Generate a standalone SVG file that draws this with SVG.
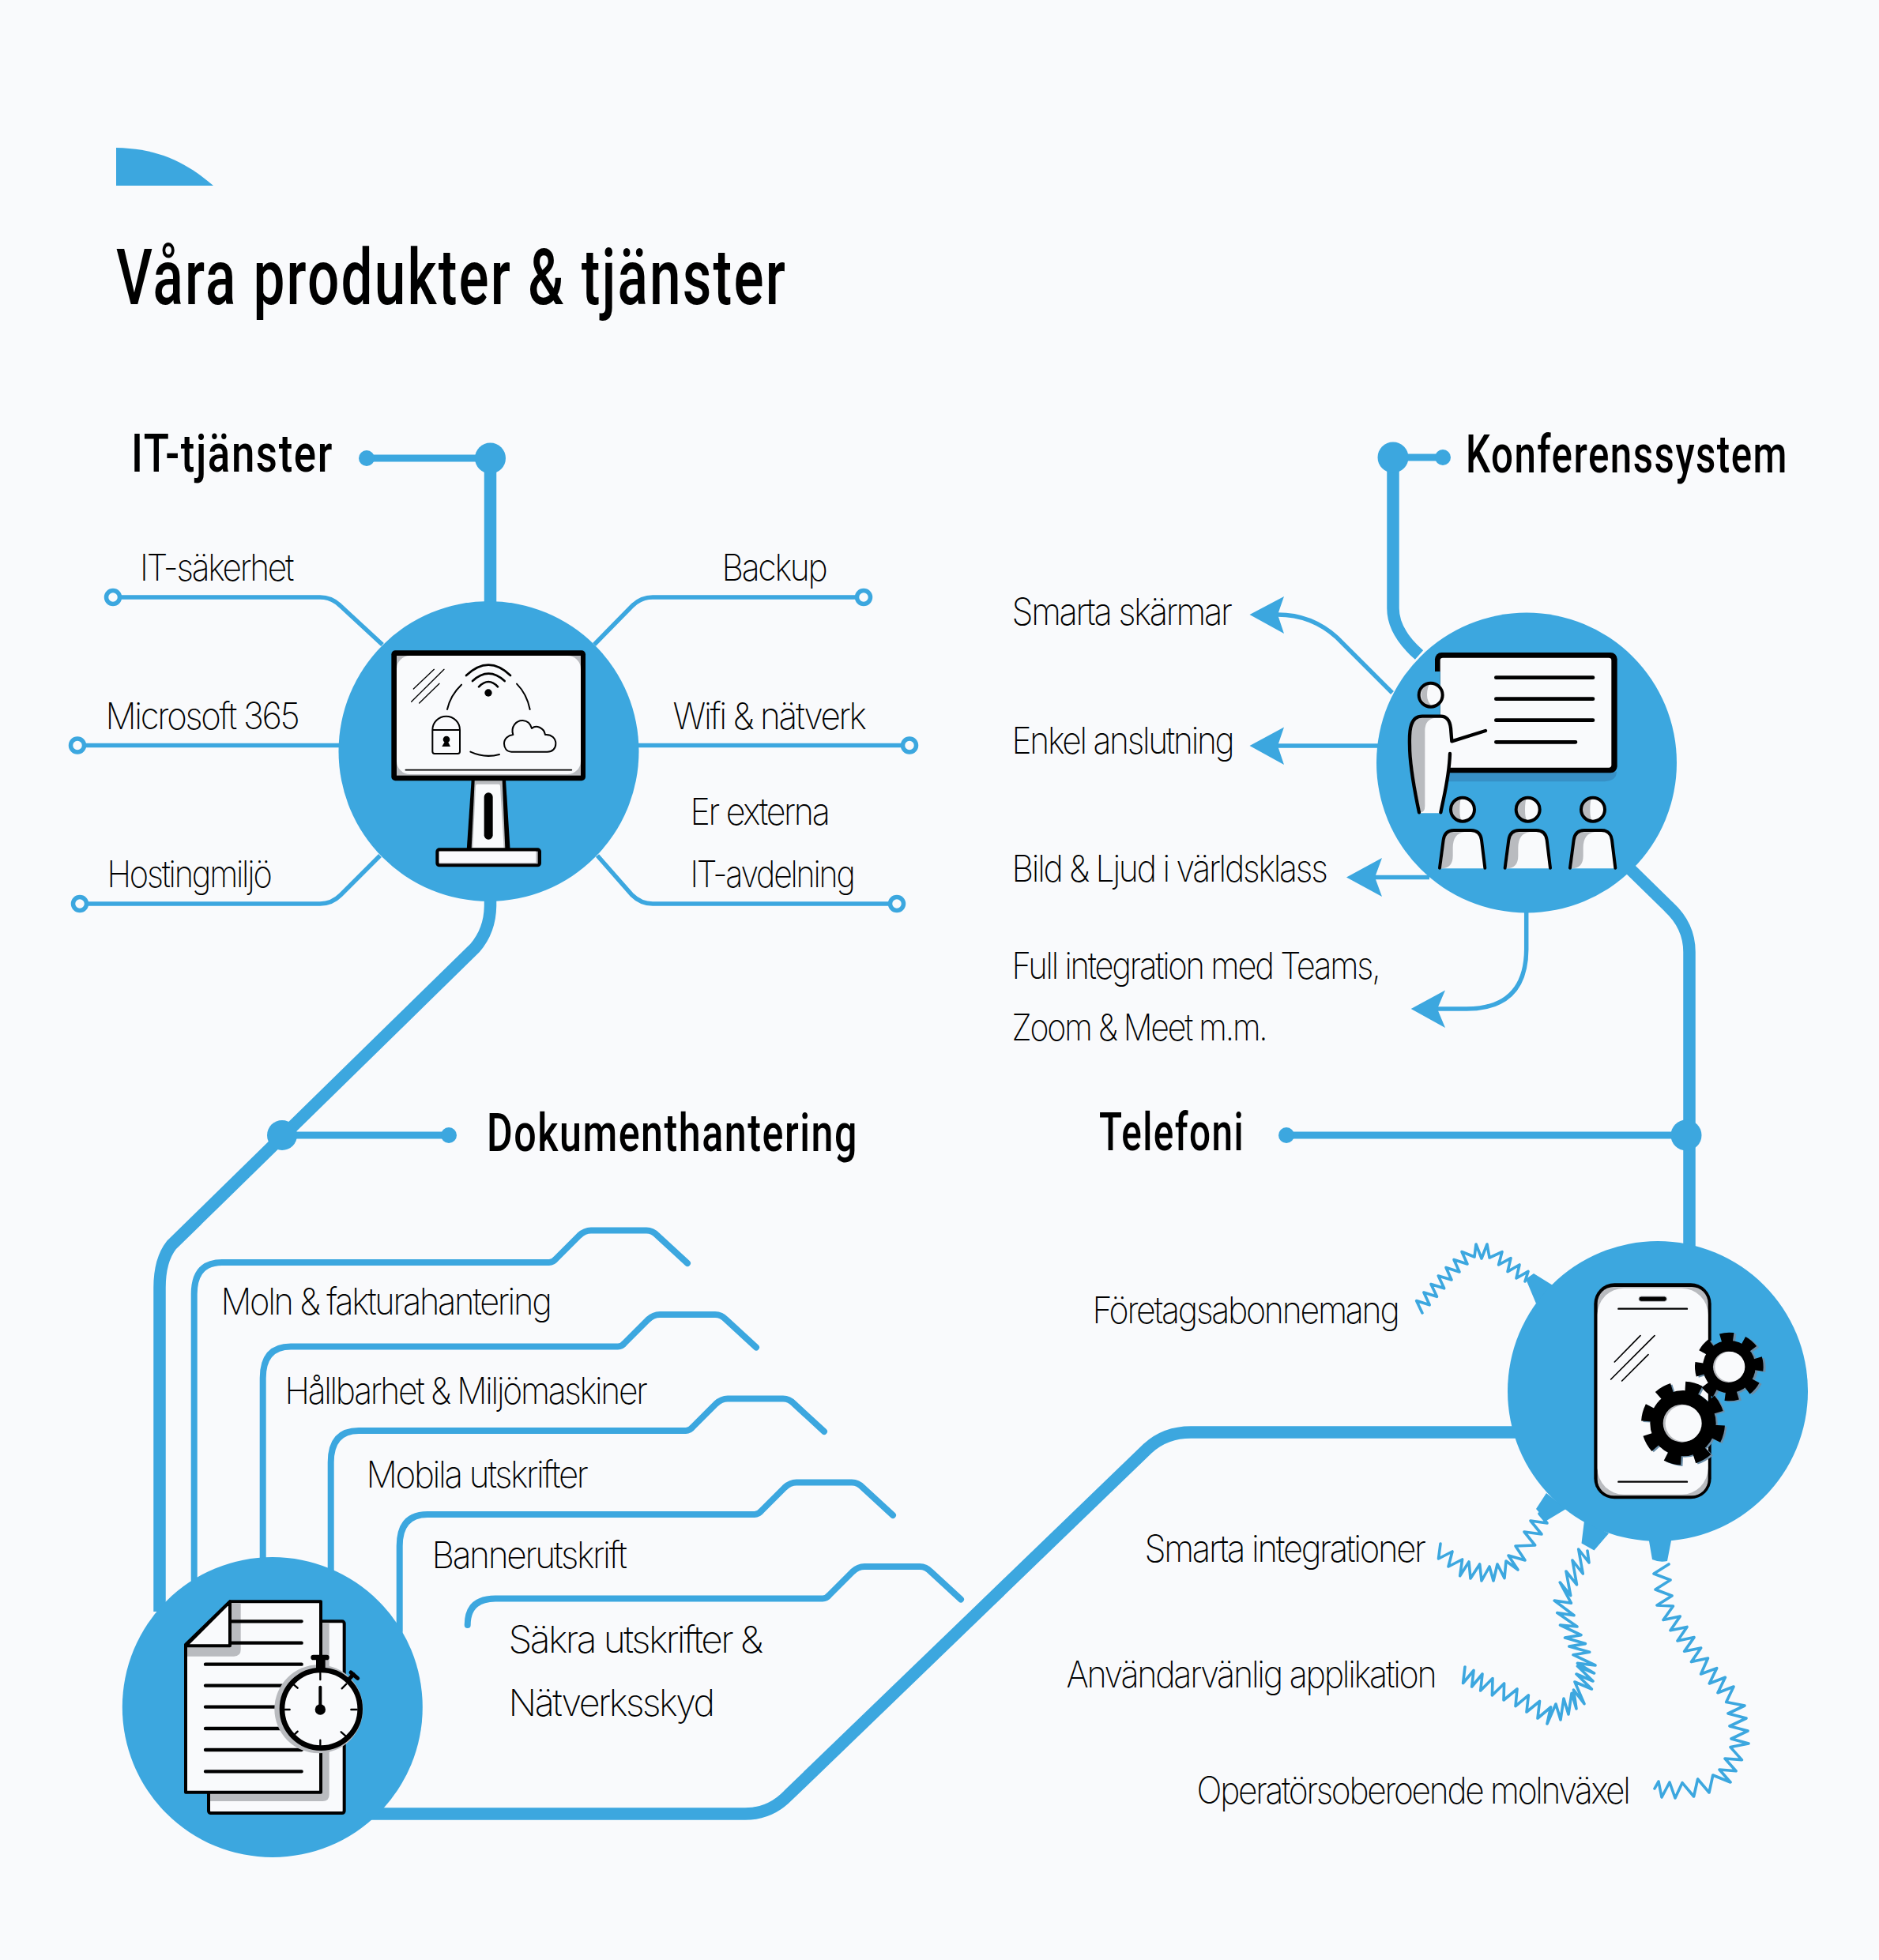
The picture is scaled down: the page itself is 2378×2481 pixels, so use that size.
<svg xmlns="http://www.w3.org/2000/svg" xmlns:xlink="http://www.w3.org/1999/xlink" width="2378" height="2481" viewBox="0 0 2378 2481">
<style>
.bg{fill:#f9fafc}
.blue{fill:#3ca7df}
.thick{fill:none;stroke:#3ca7df;stroke-width:15.5}
.mid{fill:none;stroke:#3ca7df;stroke-width:9}
.fold{fill:none;stroke:#3ca7df;stroke-width:8;stroke-linecap:round;stroke-linejoin:round}
.thin{fill:none;stroke:#3ca7df;stroke-width:5.5}
.coil{fill:none;stroke:#3ca7df;stroke-width:3.6;stroke-linejoin:round;stroke-linecap:round}
.ring{fill:#f9fafc;stroke:#3ca7df;stroke-width:5.5}
.t{font-family:"Inter","Liberation Sans",sans-serif;font-weight:200;font-size:47px;letter-spacing:-2.5px;fill:#000}
.h{font-family:"Roboto","Liberation Sans",sans-serif;font-weight:500;font-size:66px;letter-spacing:2px;fill:#000}
.title{font-family:"Roboto","Liberation Sans",sans-serif;font-weight:500;font-size:98px;letter-spacing:3px;fill:#000}
.ink{fill:none;stroke:#000;stroke-linecap:round;stroke-linejoin:round}
.w{fill:#f9fafc}
.g{fill:#b9bbbf}
.k{fill:#000}
</style>
<defs>
<g id="listener">
<path class="w" d="M186,866 L200,760 Q205,723 240,723 H305 Q340,723 345,760 L358,868 H186Z"/>
<path class="g" d="M192,866 L204,760 Q207,730 240,730 H280 Q236,735 236,790 V820 Q236,868 192,868Z"/>
<path class="ink" stroke-width="12" d="M186,866 L200,760 Q205,723 240,723 H305 Q340,723 345,760 L358,866"/>
<circle class="w" cx="273" cy="644" r="45"/>
<path class="g" d="M268,600 A44,44 0 0 0 270,688 Q262,675 262,644 Q262,615 268,600Z"/>
<circle class="ink" stroke-width="12" cx="273" cy="644" r="45"/>
</g>
<g id="gearBig" fill="currentColor" stroke="currentColor">
<circle cx="0" cy="0" r="125" stroke="none"/>
<circle cx="0" cy="0" r="138" fill="none" stroke-width="42" stroke-dasharray="58 50.4" transform="rotate(3)"/>
</g>
<g id="gearSmall" fill="currentColor" stroke="currentColor">
<circle cx="0" cy="0" r="100" stroke="none"/>
<circle cx="0" cy="0" r="112" fill="none" stroke-width="36" stroke-dasharray="48 40" transform="rotate(-17)"/>
</g>
</defs>
<rect class="bg" width="2378" height="2481"/>
<path id="tab" class="blue" d="M147,187 C200,188 235,205 270,235 H147Z"/>
<text id="title" class="title" x="147" y="385" textLength="849" lengthAdjust="spacingAndGlyphs">Våra produkter &amp; tjänster</text>

<g id="connectors">
<path class="thick" d="M620.5,580 V770"/>
<path class="mid" d="M464,580 H620"/>
<path class="thin" d="M143,756 H405 Q420,756 431,767 L484,816"/>
<path class="thin" d="M1093,756 H826 Q811,756 800,767 L752,816"/>
<path class="thin" d="M98,943.5 H440"/>
<path class="thin" d="M800,943.5 H1151"/>
<path class="thin" d="M101,1144 H405 Q420,1144 431,1133 L481,1083"/>
<path class="thin" d="M1135,1144 H826 Q811,1144 800,1133 L756,1083"/>
<path class="thick" d="M620.5,1130 V1147 Q620,1178 601,1200 L217,1576 Q202,1595 202,1630 V2040"/>
<path class="mid" d="M357,1437 H568"/>
<path class="thick" d="M1763,579 V770 Q1763,800 1796,829"/>
<path class="mid" d="M1763,579 H1826"/>
<path class="thick" d="M2063,1100 L2112,1148 Q2138,1172 2138,1205 V1590"/>
<path class="mid" d="M1628,1437 H2134"/>
<path class="thick" d="M470,2296 H943 Q975,2296 998,2272 L1453,1833 Q1475,1813 1507,1813 H1925"/>
<path class="thin" d="M1762,877 L1692,807 Q1660,778 1617,778"/>
<path class="thin" d="M1745,944 H1617"/>
<path class="thin" d="M1809,1110.5 H1740"/>
<path class="thin" d="M1931.7,1150 V1202 Q1931,1277 1856,1277 H1819"/>
<g class="blue">
<path d="M1581.5,778 L1625,755 L1617,778 L1625,802Z"/>
<path d="M1581.5,944 L1625,920.5 L1617,944 L1625,968Z"/>
<path d="M1704,1110.5 L1749,1086 L1740,1110.5 L1749,1135Z"/>
<path d="M1785.7,1277 L1829,1253.4 L1819,1277 L1829,1301Z"/>
</g>
<path class="fold" d="M245.7,2000 V1638 Q245.7,1598 281,1598 H695 Q700,1598 704,1593 L733,1564 Q740,1557.5 748,1557.5 H818 Q826,1557.5 832,1564 L870,1599"/>
<path class="fold" d="M332.7,1980 V1744.5 Q332.7,1704.5 368,1704.5 H782 Q787,1704.5 791,1699.5 L820,1670.5 Q827,1664 835,1664 H905 Q913,1664 919,1670.5 L957,1705.5"/>
<path class="fold" d="M418.7,1990 V1851 Q418.7,1811 454,1811 H868 Q873,1811 877,1806 L906,1777 Q913,1770.5 921,1770.5 H991 Q999,1770.5 1005,1777 L1043,1812"/>
<path class="fold" d="M505.7,2065 V1957 Q505.7,1917 541,1917 H955 Q960,1917 964,1912 L993,1883 Q1000,1876.5 1008,1876.5 H1078 Q1086,1876.5 1092,1883 L1130,1918"/>
<path class="fold" d="M591.7,2057 Q591.7,2023.5 627,2023.5 H1041 Q1046,2023.5 1050,2018.5 L1079,1989.5 Q1086,1983 1094,1983 H1164 Q1172,1983 1178,1989.5 L1216,2024.5"/>
<path class="coil" d="M1800,1662 L1792.6,1646.5 1809.2,1651.8 1801.9,1636 1818.5,1641.3 1811,1625.5 1827.7,1630.8 1820.3,1615 1837,1620 1830,1604.5 1847,1610 1840,1594.5 1857,1600 1850,1584.5 1866,1591 1868,1575 1875,1593 1882,1575 1885,1592 1901,1584.6 1896.6,1601 1912,1592.6 1908,1609.6 1923,1601 1919,1618 1934,1609.4 1930,1622"/>
<path class="coil" d="M1823,1954 L1820.5,1973 1838,1964 1833,1983 1850.6,1974 1847.7,1994.7 1859,1977 1861,1998 1872.7,1980 1875,2001 1885,1983 1890,2001 1895,1980 1904,1997.6 1906,1976 1921,1987 1909,1969 1930,1975 1918,1957 1942.7,1956 1929,1939 1951,1942 1937,1925 1958,1928 1948,1916"/>
<path class="coil" d="M1854,2110 L1851.6,2130.5 1865,2114.5 1862.7,2135 1876,2119 1873.7,2140 1889,2124.6 1888.4,2146 1903.6,2131 1903,2152 1920,2138 1918,2159.6 1934.4,2145.8 1932,2167 1948.5,2153.5 1946,2175 1962.6,2161 1958,2182 1969,2157 1975,2177 1979,2150 1985,2170 1989,2143.4 1995,2163 1991.5,2139 2005,2156.7 1993,2129 2014.4,2138 1995,2119 2016,2128 1996.4,2109 2017.6,2118 1996.4,2105.4 2019,2108 1991,2094.7 2011.7,2091.3 1985.8,2084 2006.4,2080.6 1980.5,2073 2001,2069.6 1974.5,2057 1996,2059 1970.8,2041.6 1992,2044.8 1967.2,2026 1988.4,2029.2 1974.2,2003 1987.7,2019.7 1982,1989 1995.5,2005.8 1990,1975 2003.3,1992 1997.7,1961 2011,1978 2009,1963"/>
<path class="coil" d="M2112,1980 L2093,1992 2114,2000 2095,2012 2116,2020 2097,2032 2117.5,2033 2105,2050.5 2126.3,2046 2114,2063.7 2135,2059.4 2123,2077 2144,2072.6 2131.7,2090.3 2152.7,2086 2140.5,2103.6 2161.5,2099 2152.6,2119 2172.7,2111.6 2163.3,2131 2183.4,2123.3 2174,2142.7 2194,2135 2184.7,2154.6 2208,2159 2187,2169 2210,2175 2189,2185 2212,2191 2191,2201 2213,2207 2190,2211.6 2204.4,2227.6 2183,2226 2197,2241.8 2176,2240 2190,2256 2167.8,2247 2163,2269 2148.6,2252 2143.6,2274 2129,2256.7 2120,2276 2113,2256 2103,2275 2099,2255 2094,2264"/>
</g>

<g id="terminals">
<circle class="blue" cx="620.5" cy="580" r="19.5"/><circle class="blue" cx="464" cy="580" r="10"/>
<circle class="blue" cx="1763" cy="579" r="19.5"/><circle class="blue" cx="1826" cy="579" r="10"/>
<circle class="blue" cx="357" cy="1437" r="19"/><circle class="blue" cx="568" cy="1437" r="10"/>
<circle class="blue" cx="2134" cy="1437" r="19.5"/><circle class="blue" cx="1628" cy="1437" r="10"/>
<circle class="ring" cx="143" cy="756" r="8.5"/><circle class="ring" cx="1093" cy="756" r="8.5"/>
<circle class="ring" cx="98" cy="943.5" r="8.5"/><circle class="ring" cx="1151" cy="943.5" r="8.5"/>
<circle class="ring" cx="101" cy="1144" r="8.5"/><circle class="ring" cx="1135" cy="1144" r="8.5"/>
</g>

<g id="node-it">
<circle class="blue" cx="618.5" cy="951" r="190"/>
<g transform="translate(470,800) scale(0.33333)">
<rect class="k" x="76" y="70" width="737" height="495" rx="15"/>
<rect class="g" x="96" y="90" width="699" height="455"/>
<rect class="w" x="96" y="90" width="699" height="450" rx="50"/>
<path class="ink" stroke-width="5" d="M130,524 H760"/>
<path class="ink" stroke-width="4" d="M238,142 L160,216 M276,142 L152,265 M258,196 L182,270"/>
<path class="ink" stroke-width="8" d="M360,165 Q445,85 528,165 M384,186 Q445,130 506,186 M408,208 Q445,170 480,208"/>
<circle class="k" cx="444" cy="231" r="14"/>
<path class="ink" stroke-width="6" d="M288,294 Q300,240 342,200 M552,197 Q590,235 602,294 M376,455 Q430,480 486,465"/>
<path class="ink" stroke-width="6" d="M232,372 A52,52 0 0 1 336,372 V454 Q336,462 328,462 H240 Q232,462 232,454Z M232,372 H336"/>
<circle class="k" cx="285" cy="408" r="13"/><path class="k" d="M268,435 L300,435 L285,405Z"/>
<path class="ink" stroke-width="6" d="M532,455 C512,455 504,438 504,424 C504,404 520,392 538,390 C528,360 550,335 575,336 C592,337 604,348 609,366 C625,352 655,362 660,390 C685,388 700,405 700,424 C700,442 688,455 668,455Z"/>
<path class="k" d="M380,560 H510 L527,828 H362Z"/>
<path class="g" d="M392,565 H497 L508,822 H380Z"/>
<path class="w" d="M402,578 H484 Q488,578 489,585 L503,820 H385 L396,585 Q397,578 402,578Z"/>
<rect class="k" x="428" y="610" width="33" height="178" rx="16"/>
<rect class="k" x="244" y="820" width="401" height="72" rx="14"/>
<rect class="g" x="257" y="833" width="375" height="47"/>
<rect class="w" x="257" y="833" width="368" height="43"/>
</g>
</g>

<g id="node-conference">
<circle class="blue" cx="1932" cy="965.5" r="190"/>
<g transform="translate(1760,810) scale(0.33333)">
<path fill="#3790c6" d="M215,500 H858 Q858,538 800,538 H215Z"/>
<rect class="k" x="168" y="48" width="692" height="457" rx="25"/>
<rect class="w" x="188" y="68" width="650" height="417" rx="10"/>
<rect class="blue" x="160" y="120" width="28" height="165"/>
<path class="ink" stroke-width="14" d="M400,143 H768 M400,224 H768 M400,305 H768 M400,388 H702"/>
<path class="w" d="M108,658 C90,570 72,480 72,400 C70,340 75,290 120,290 H190 C215,290 225,310 228,335 L230,430 C222,520 205,580 190,658Z"/>
<path class="g" d="M114,655 C96,570 78,480 78,400 C76,345 80,296 120,296 H170 Q130,300 130,345 V630 Q130,655 114,655Z"/>
<path class="ink" stroke-width="13" d="M108,655 C90,570 72,480 72,400 C70,340 75,290 120,290 H190 C215,290 225,310 228,335 L232,385 L360,345 M225,432 C222,520 205,580 190,655"/>
<circle class="w" cx="152" cy="209" r="45"/>
<path class="g" d="M150,165 A44,44 0 0 0 158,252 Q138,235 138,209 Q138,180 150,165Z"/>
<circle class="ink" stroke-width="12" cx="152" cy="209" r="45"/>
<use xlink:href="#listener" href="#listener"/>
<use xlink:href="#listener" href="#listener" x="248"/>
<use xlink:href="#listener" href="#listener" x="495"/>
</g>
</g>

<g id="node-documents">
<circle class="blue" cx="344.8" cy="2161" r="190"/>
<g transform="translate(210,2000) scale(0.33333)">
<rect class="w" x="162" y="157" width="515" height="728" rx="8" stroke="#000" stroke-width="12"/>
<path class="g" d="M590,165 H620 V815 Q620,840 595,840 H168 V806 H590Z"/>
<path class="w" d="M75,245 L243,82 H588 V806 H75Z" stroke="#000" stroke-width="12" stroke-linejoin="round"/>
<path class="g" d="M249,88 H284 V265 Q284,290 258,290 H81 V252 H249Z"/>
<path class="w" d="M243,82 V250 H75Z" stroke="#000" stroke-width="12" stroke-linejoin="round"/>
<path class="ink" stroke-width="13" d="M250,157 H515 M250,239 H515 M150,320 H515 M150,401 H470 M150,482 H440 M150,564 H470 M150,645 H515 M150,727 H515"/>
<circle class="g" cx="580" cy="490" r="168"/>
<rect class="k" x="570" y="298" width="35" height="45"/>
<rect class="k" x="550" y="284" width="70" height="20" rx="10"/>
<path class="ink" stroke-width="15" d="M690,382 L712,358 M702,351 L728,373"/>
<circle class="w" cx="589" cy="490" r="148" stroke="#000" stroke-width="20"/>
<path class="ink" stroke-width="7" d="M586,352 V378 M586,608 V634 M452,492 H470 M703,492 H725 M485,397 L500,410 M685,395 L668,412 M485,590 L500,575 M682,592 L665,577"/>
<path class="ink" stroke-width="12" d="M586,407 V490"/>
<circle class="k" cx="586" cy="492" r="20"/>
</g>
</g>

<g id="node-telephony">
<path class="blue" d="M1931,1619 L1941,1612 L1970,1630 L1944,1650Z M1944,1910 L1957,1890 L1982,1910 L1957,1925Z M2005,1925 L2001.5,1953.5 L2017.5,1962.6 L2036,1941Z M2086,1945 L2091,1974 Q2100,1978 2110,1976 L2116,1945Z"/>
<circle class="blue" cx="2098" cy="1761" r="190"/>
<g transform="translate(2000,1610) scale(0.33333)">
<rect class="k" x="52" y="43" width="445" height="819" rx="78"/>
<rect class="g" x="65" y="57" width="420" height="793" rx="62"/>
<rect class="w" x="65" y="62" width="420" height="783" rx="100"/>
<rect class="k" x="222" y="93" width="106" height="19" rx="9" stroke="#b9bbbf" stroke-width="3"/>
<path class="ink" stroke-width="7" d="M145,140 H405 M145,797 H405"/>
<path class="ink" stroke-width="5" d="M228,242 L130,342 M282,242 L116,408 M258,314 L158,414"/>
<g color="#6b8ea8"><use xlink:href="#gearBig" href="#gearBig" transform="translate(397,579)"/><use xlink:href="#gearSmall" href="#gearSmall" transform="translate(574,364)"/></g>
<g color="#000"><use xlink:href="#gearSmall" href="#gearSmall" transform="translate(565,360)"/><use xlink:href="#gearBig" href="#gearBig" transform="translate(390,575)"/></g>
<circle class="g" cx="386" cy="575" r="72"/><circle class="w" cx="392" cy="575" r="69"/>
<circle class="g" cx="563" cy="361" r="59"/><circle class="w" cx="568" cy="360" r="57"/>
</g>
</g>

<g id="labels">
<text class="h" x="166" y="597" textLength="256" lengthAdjust="spacingAndGlyphs">IT-tjänster</text>
<text class="h" x="1855" y="598" textLength="408" lengthAdjust="spacingAndGlyphs">Konferenssystem</text>
<text class="h" x="616" y="1457" textLength="470" lengthAdjust="spacingAndGlyphs">Dokumenthantering</text>
<text class="h" x="1391" y="1456" textLength="184" lengthAdjust="spacingAndGlyphs">Telefoni</text>
<g transform="translate(-1.5,0)">
<text class="t" x="178.6" y="735" textLength="193" lengthAdjust="spacingAndGlyphs">IT-säkerhet</text>
<text class="t" x="915" y="735" textLength="132" lengthAdjust="spacingAndGlyphs">Backup</text>
<text class="t" x="135" y="923" textLength="244" lengthAdjust="spacingAndGlyphs">Microsoft 365</text>
<text class="t" x="853" y="923" textLength="243" lengthAdjust="spacingAndGlyphs">Wifi &amp; nätverk</text>
<text class="t" x="875" y="1044" textLength="175" lengthAdjust="spacingAndGlyphs">Er externa</text>
<text class="t" x="875" y="1123" textLength="207" lengthAdjust="spacingAndGlyphs">IT-avdelning</text>
<text class="t" x="137" y="1123" textLength="207" lengthAdjust="spacingAndGlyphs">Hostingmiljö</text>
<text class="t" x="1282" y="791" textLength="277" lengthAdjust="spacingAndGlyphs">Smarta skärmar</text>
<text class="t" x="1282" y="953.7" textLength="280" lengthAdjust="spacingAndGlyphs">Enkel anslutning</text>
<text class="t" x="1282" y="1116" textLength="398" lengthAdjust="spacingAndGlyphs">Bild &amp; Ljud i världsklass</text>
<text class="t" x="1282" y="1239" textLength="465" lengthAdjust="spacingAndGlyphs">Full integration med Teams,</text>
<text class="t" x="1282" y="1317" textLength="322" lengthAdjust="spacingAndGlyphs">Zoom &amp; Meet m.m.</text>
<text class="t" x="281" y="1663.6" textLength="417" lengthAdjust="spacingAndGlyphs">Moln &amp; fakturahantering</text>
<text class="t" x="362" y="1776.7" textLength="457" lengthAdjust="spacingAndGlyphs">Hållbarhet &amp; Miljömaskiner</text>
<text class="t" x="465" y="1883" textLength="279" lengthAdjust="spacingAndGlyphs">Mobila utskrifter</text>
<text class="t" x="548" y="1985" textLength="245" lengthAdjust="spacingAndGlyphs">Bannerutskrift</text>
<text class="t" x="645" y="2092" textLength="320" lengthAdjust="spacingAndGlyphs">Säkra utskrifter &amp;</text>
<text class="t" x="645" y="2171.6" textLength="259" lengthAdjust="spacingAndGlyphs">Nätverksskyd</text>
<text class="t" x="1384" y="1675" textLength="387" lengthAdjust="spacingAndGlyphs">Företagsabonnemang</text>
<text class="t" x="1450" y="1977" textLength="354" lengthAdjust="spacingAndGlyphs">Smarta integrationer</text>
<text class="t" x="1351" y="2135.6" textLength="467" lengthAdjust="spacingAndGlyphs">Användarvänlig applikation</text>
<text class="t" x="1516" y="2282.6" textLength="547" lengthAdjust="spacingAndGlyphs">Operatörsoberoende molnväxel</text>
</g>
</g>
</svg>
